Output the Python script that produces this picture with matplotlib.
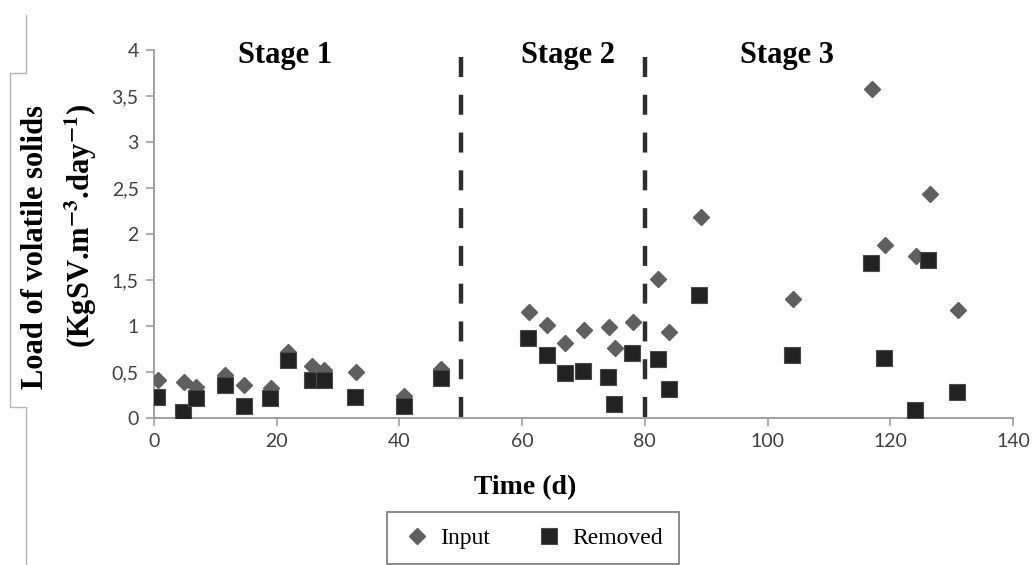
import matplotlib
matplotlib.use("Agg")
import matplotlib.pyplot as plt
from matplotlib.lines import Line2D

# Input load (diamonds)
input_t = [0.7, 4.9, 6.9, 11.6, 14.7, 19.0, 21.8, 25.7, 27.7, 32.9, 40.8, 46.8,
           61.1, 64.1, 67.0, 70.0, 74.2, 75.1, 78.1, 82.2, 84.0, 89.1,
           104.2, 117.1, 119.2, 124.2, 126.4, 131.0]
input_v = [0.41, 0.39, 0.34, 0.47, 0.36, 0.33, 0.72, 0.57, 0.52, 0.50, 0.24, 0.53,
           1.15, 1.01, 0.81, 0.96, 0.99, 0.76, 1.04, 1.51, 0.93, 2.18,
           1.29, 3.58, 1.88, 1.76, 2.43, 1.17]

# Removed load (squares)
removed_t = [0.5, 4.8, 6.9, 11.6, 14.7, 18.9, 21.8, 25.7, 27.7, 32.8, 40.8, 46.8,
             60.9, 64.0, 67.0, 69.9, 74.0, 75.0, 77.9, 82.1, 83.9, 88.9,
             104.0, 116.9, 119.0, 124.1, 126.1, 130.9]
removed_v = [0.23, 0.07, 0.22, 0.36, 0.13, 0.22, 0.63, 0.41, 0.41, 0.23, 0.13, 0.43,
             0.87, 0.68, 0.49, 0.51, 0.45, 0.15, 0.71, 0.64, 0.31, 1.34,
             0.68, 1.69, 0.65, 0.09, 1.72, 0.28]

stage_bounds = [50, 80]
stage_labels = ["Stage 1", "Stage 2", "Stage 3"]
stage_label_t = [21.4, 67.4, 103.2]

x_ticks = [0, 20, 40, 60, 80, 100, 120, 140]
y_ticks = [0, 0.5, 1, 1.5, 2, 2.5, 3, 3.5, 4]
y_ticklabels = ["0", "0,5", "1", "1,5", "2", "2,5", "3", "3,5", "4"]

plt.rcParams["mathtext.fontset"] = "stix"
SERIF = "Liberation Serif"
TICK_FONT = "Lato"

fig = plt.figure(figsize=(10.35, 5.65), dpi=100)
W, H = 1035, 565
ax = fig.add_axes([154 / W, 1 - 418 / H, (1013 - 154) / W, (418 - 50) / H])

ax.plot(input_t, input_v, ls="none", marker="D", ms=8, color="#5f5f5f",
        mec="#5f5f5f", label="Input", zorder=3)
ax.plot(removed_t, removed_v, ls="none", marker="s", ms=11.5, color="#222222",
        mec="#4a4a4a", mew=0.8, label="Removed", zorder=4)

for b in stage_bounds:
    ax.plot([b, b], [3.92, 0], color="#2e2e2e", lw=3.2,
            ls=(0, (4.5, 4.0)), zorder=5, solid_capstyle="butt")

for lab, t in zip(stage_labels, stage_label_t):
    ax.text(t, 3.86, lab, ha="center", va="baseline", fontsize=22,
            fontweight="bold", family=SERIF)

ax.set_xlim(0, 140)
ax.set_ylim(0, 4)
ax.set_xticks(x_ticks)
ax.set_xticklabels([str(v) for v in x_ticks])
ax.set_yticks(y_ticks)
ax.set_yticklabels(y_ticklabels)
for lbl in ax.get_xticklabels() + ax.get_yticklabels():
    lbl.set_family(TICK_FONT)
    lbl.set_fontsize(14)
    lbl.set_color("#404040")
ax.tick_params(direction="out", length=6, width=1.2, color="#a0a0a0", pad=5)
for s in ["top", "right"]:
    ax.spines[s].set_visible(False)
for s in ["left", "bottom"]:
    ax.spines[s].set_color("#a0a0a0")
    ax.spines[s].set_linewidth(1.4)

fig.text(525 / W, 1 - 488 / H, "Time (d)", ha="center", va="center",
         fontsize=20, fontweight="bold", family=SERIF)
fig.text(36 / W, 1 - 247 / H, "Load of volatile solids", rotation=90,
         ha="center", va="center", fontsize=22, fontweight="bold", family=SERIF)
fig.text(81 / W, 1 - 226 / H, r"(KgSV.m$^{\mathbf{-3}}$.day$^{\mathbf{-1}}$)",
         rotation=90, ha="center", va="center", fontsize=22, fontweight="bold",
         family=SERIF)

# grey bracket along the left edge
bx = [26, 26, 10, 10, 26, 26]
by = [15, 73, 73, 407, 407, 565]
fig.add_artist(Line2D([x / W for x in bx], [1 - y / H for y in by],
                      color="#b5b5b5", lw=1.0))

leg = fig.legend(loc="center", bbox_to_anchor=(533 / W, 1 - 538 / H),
                 ncol=2, frameon=True, fancybox=False, borderpad=0.65,
                 columnspacing=1.9, handletextpad=0.4, handlelength=1.2,
                 borderaxespad=0, prop={"family": SERIF, "size": 17})
leg.get_frame().set_edgecolor("#555555")
leg.get_frame().set_linewidth(1.2)

fig.savefig("out.png", dpi=100)
